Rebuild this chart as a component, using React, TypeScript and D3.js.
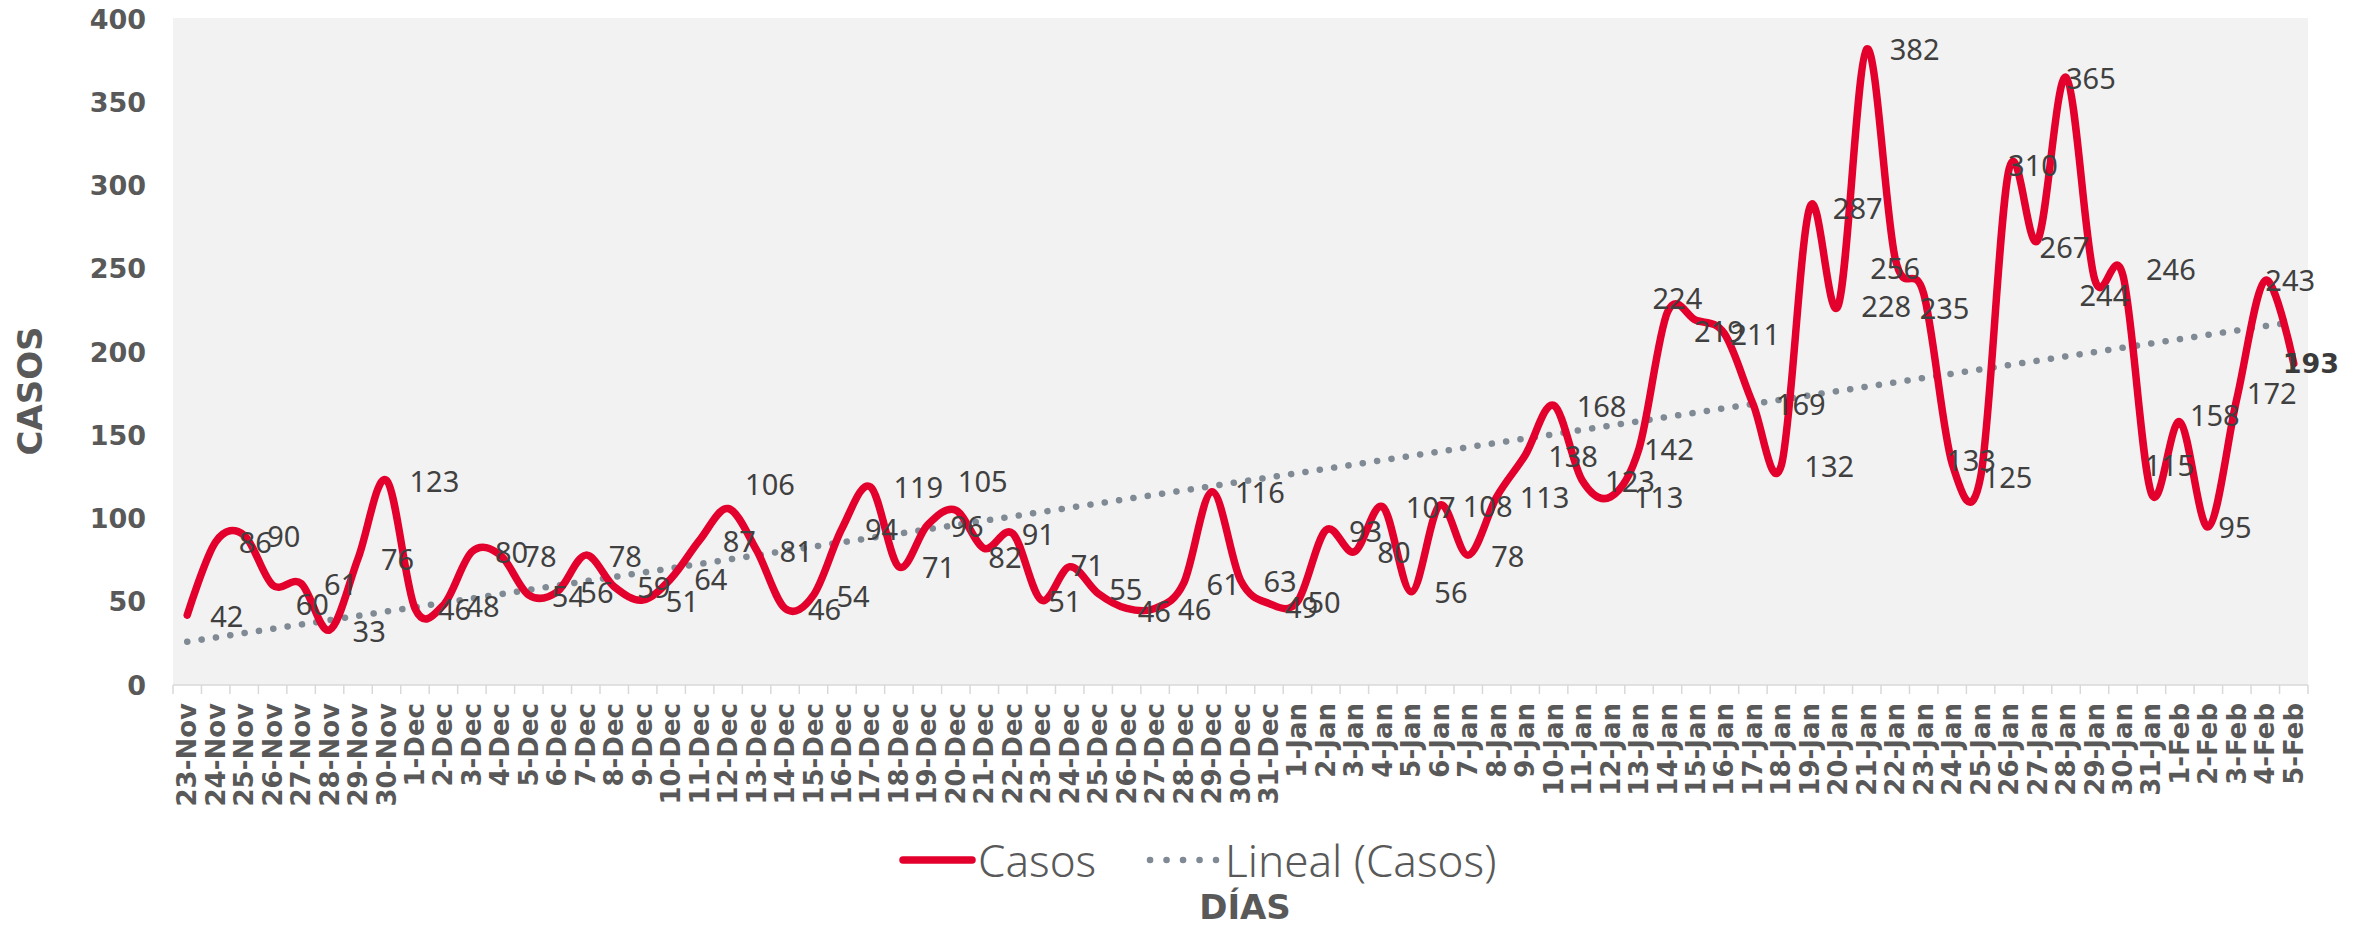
import React from "react";
import * as d3 from "d3";

const dates: string[] = [
  "23-Nov", "24-Nov", "25-Nov", "26-Nov", "27-Nov", "28-Nov", "29-Nov", "30-Nov",
  "1-Dec", "2-Dec", "3-Dec", "4-Dec", "5-Dec", "6-Dec", "7-Dec", "8-Dec", "9-Dec", "10-Dec",
  "11-Dec", "12-Dec", "13-Dec", "14-Dec", "15-Dec", "16-Dec", "17-Dec", "18-Dec", "19-Dec", "20-Dec",
  "21-Dec", "22-Dec", "23-Dec", "24-Dec", "25-Dec", "26-Dec", "27-Dec", "28-Dec", "29-Dec", "30-Dec", "31-Dec",
  "1-Jan", "2-Jan", "3-Jan", "4-Jan", "5-Jan", "6-Jan", "7-Jan", "8-Jan", "9-Jan", "10-Jan",
  "11-Jan", "12-Jan", "13-Jan", "14-Jan", "15-Jan", "16-Jan", "17-Jan", "18-Jan", "19-Jan", "20-Jan",
  "21-Jan", "22-Jan", "23-Jan", "24-Jan", "25-Jan", "26-Jan", "27-Jan", "28-Jan", "29-Jan", "30-Jan", "31-Jan",
  "1-Feb", "2-Feb", "3-Feb", "4-Feb", "5-Feb",
];

const casos: number[] = [
  42, 86, 90, 60, 61, 33, 76, 123,
  46, 48, 80, 78, 54, 56, 78, 59, 51, 64,
  87, 106, 81, 46, 54, 94, 119, 71, 96, 105,
  82, 91, 51, 71, 55, 46, 46, 61, 116, 63, 49,
  50, 93, 80, 107, 56, 108, 78, 113, 138, 168,
  123, 113, 142, 224, 219, 211, 169, 132, 287, 228,
  382, 256, 235, 133, 125, 310, 267, 365, 244, 246, 115,
  158, 95, 172, 243, 193,
];

const yTicks: number[] = [0, 50, 100, 150, 200, 250, 300, 350, 400];

// label nudges (label offset from its point: [dx to label left edge, dy]) for labels moved by hand
const labelNudges: Record<string, [number, number]> = {
  "26-Nov": [23, 18],
  "12-Dec": [17, -25],
  "20-Dec": [2, -30],
  "21-Dec": [4, 8],
  "22-Dec": [9, 0],
  "23-Dec": [7, 0],
  "24-Dec": [1, -2],
  "25-Dec": [11, -5],
  "26-Dec": [11, 2],
  "31-Dec": [16, 3],
  "1-Jan": [10, 0],
  "13-Jan": [5, 0],
  "14-Jan": [-15, -15],
  "15-Jan": [-2, 10],
  "16-Jan": [6, 0],
  "22-Jan": [-25, 9],
  "23-Jan": [-4, 14],
  "24-Jan": [-6, -4],
  "25-Jan": [2, 0],
  "26-Jan": [-1, -4],
  "27-Jan": [2, 6],
  "28-Jan": [0, 0],
  "29-Jan": [-15, 16],
  "30-Jan": [23, -7],
  "31-Jan": [-7, -29],
  "1-Feb": [10, -7],
  "2-Feb": [10, 0],
  "3-Feb": [10, -6],
  "4-Feb": [0, -1],
  "5-Feb": [-11, 0],
};

export default function App() {
  const W = 2356;
  const H = 929;
  const plot = { left: 173, right: 2308, top: 18, bottom: 685 };

  const x = d3.scaleBand<string>().domain(dates).range([plot.left, plot.right]);
  const y = d3.scaleLinear().domain([0, 400]).range([plot.bottom, 19]);
  const cx = (d: string) => (x(d) as number) + x.bandwidth() / 2;

  const line = d3
    .line<number>()
    .x((_, i) => cx(dates[i]))
    .y((v) => y(v))
    .curve(d3.curveCatmullRom.alpha(0));

  // linear trendline (least squares on index 1..n)
  const n = casos.length;
  const xs = d3.range(1, n + 1);
  const mx = d3.mean(xs) as number;
  const my = d3.mean(casos) as number;
  const sxy = d3.sum(xs, (xi, i) => (xi - mx) * (casos[i] - my));
  const sxx = d3.sum(xs, (xi) => (xi - mx) * (xi - mx));
  const slope = sxy / sxx;
  const intercept = my - slope * mx;
  const t0 = intercept + slope * 1;
  const t1 = intercept + slope * n;

  const grey = "#595959";
  const red = "#E3002C";
  const dotGrey = "#7F8A94";
  const boldFont = "'DejaVu Sans', sans-serif";
  const labelFont = "'Noto Sans', sans-serif";

  const ticksX = d3.range(0, dates.length + 1).map((k) => plot.left + k * x.step());

  return (
    <div style={{ position: "absolute", left: 0, top: 0 }}>
      <svg width={W} height={H} viewBox={`0 0 ${W} ${H}`} style={{ display: "block", background: "#ffffff" }}>
        <rect x={plot.left} y={plot.top} width={plot.right - plot.left} height={plot.bottom - plot.top} fill="#F2F2F2" />

        {/* x axis */}
        <line x1={plot.left} x2={plot.right} y1={plot.bottom} y2={plot.bottom} stroke="#D9D9D9" strokeWidth={1.5} />
        {ticksX.map((tx, k) => (
          <line key={k} x1={tx} x2={tx} y1={plot.bottom} y2={plot.bottom + 9} stroke="#D9D9D9" strokeWidth={1.5} />
        ))}
        {dates.map((d) => (
          <text
            key={d}
            transform={`translate(${cx(d)},703) rotate(-90)`}
            textAnchor="end"
            dominantBaseline="central"
            fontFamily={boldFont}
            fontWeight="bold"
            fontSize={26}
            fill={grey}
          >
            {d}
          </text>
        ))}

        {/* y ticks */}
        {yTicks.map((t) => (
          <text
            key={t}
            x={146}
            y={y(t)}
            textAnchor="end"
            dominantBaseline="central"
            fontFamily={boldFont}
            fontWeight="bold"
            fontSize={27}
            fill={grey}
          >
            {t}
          </text>
        ))}

        {/* trendline */}
        <line
          x1={cx(dates[0])}
          x2={cx(dates[n - 1])}
          y1={y(t0)}
          y2={y(t1)}
          stroke={dotGrey}
          strokeWidth={6.5}
          strokeLinecap="round"
          strokeDasharray="0.1 14.4"
        />

        {/* series */}
        <path d={line(casos) || ""} fill="none" stroke={red} strokeWidth={7.5} strokeLinejoin="round" strokeLinecap="round" />

        {/* data labels */}
        {casos.map((v, i) => {
          const d = dates[i];
          const nud = labelNudges[d] || [23, 0];
          const last = i === n - 1;
          return (
            <text
              key={d}
              x={cx(d) + nud[0]}
              y={y(v) + nud[1]}
              dominantBaseline="central"
              fontFamily={last ? boldFont : labelFont}
              fontWeight={last ? "bold" : "normal"}
              fontSize={last ? 27 : 29}
              fill={last ? "#3A3A3A" : "#404040"}
            >
              {v}
            </text>
          );
        })}

        {/* axis titles */}
        <text
          transform={`translate(30,391) rotate(-90)`}
          textAnchor="middle"
          dominantBaseline="central"
          fontFamily={boldFont}
          fontWeight="bold"
          fontSize={34}
          fill={grey}
        >
          CASOS
        </text>
        <text x={1245} y={919} textAnchor="middle" fontFamily={boldFont} fontWeight="bold" fontSize={34} fill={grey}>
          DÍAS
        </text>

        {/* legend */}
        <line x1={903} x2={972} y1={860} y2={860} stroke={red} strokeWidth={7.5} strokeLinecap="round" />
        <text x={978} y={860} dominantBaseline="central" fontFamily={labelFont} fontWeight={300} fontSize={44} fill={grey}>
          Casos
        </text>
        <line x1={1150} x2={1216} y1={860} y2={860} stroke={dotGrey} strokeWidth={6.5} strokeLinecap="round" strokeDasharray="0.1 16.4" />
        <text x={1225} y={860} dominantBaseline="central" fontFamily={labelFont} fontWeight={300} fontSize={44} fill={grey}>
          Lineal (Casos)
        </text>
      </svg>
    </div>
  );
}
